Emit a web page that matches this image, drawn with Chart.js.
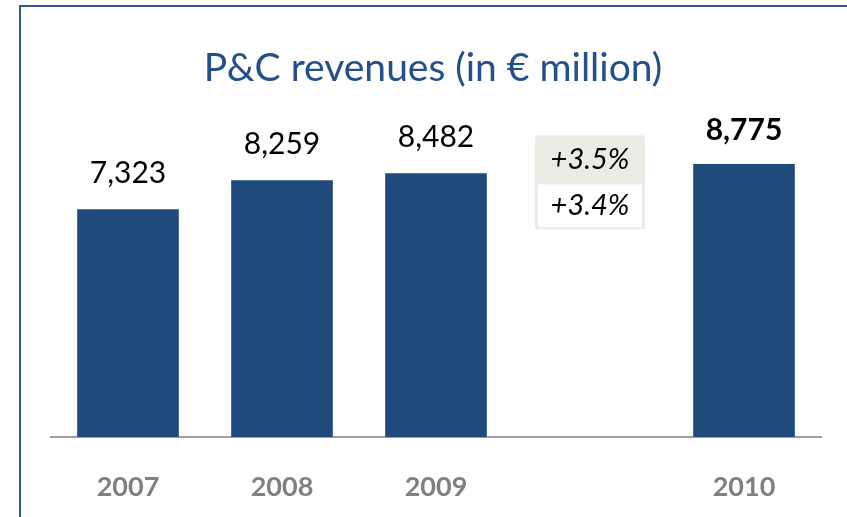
<!DOCTYPE html>
<html>
<head>
<meta charset="utf-8">
<script src="https://cdn.jsdelivr.net/npm/chart.js@4"></script>
<style>
  html, body { margin: 0; padding: 0; background: #ffffff; }
  #wrap { position: relative; width: 847px; height: 517px; }
</style>
</head>
<body>
<div id="wrap"><canvas id="pcChart" width="847" height="517"></canvas></div>
<script>
// P&C revenues, € million
const years = ['2007', '2008', '2009', '', '2010'];
const revenues = [7323, 8259, 8482, null, 8775];
const growthLabels = ['+3.5%', '+3.4%'];
const chartTitle = 'P&C revenues (in € million)';

const FONT = 'Lato, Calibri, "Open Sans", sans-serif';

// frame + title drawn behind the chart
const framePlugin = {
    id: 'frame',
    beforeDraw(chart) {
        const ctx = chart.ctx;
        ctx.save();
        ctx.strokeStyle = '#2B5A92';
        ctx.lineWidth = 2;
        ctx.beginPath();
        ctx.moveTo(20, 518);
        ctx.lineTo(20, 6);
        ctx.lineTo(848, 6);
        ctx.stroke();

        ctx.fillStyle = '#23508A';
        ctx.font = '39px ' + FONT;
        ctx.textAlign = 'center';
        ctx.textBaseline = 'alphabetic';
        ctx.fillText(chartTitle, 433, 81);
        ctx.restore();
    }
};

// value labels above bars + growth box
const labelPlugin = {
    id: 'valueLabels',
    afterDatasetsDraw(chart) {
        const ctx = chart.ctx;
        const meta = chart.getDatasetMeta(0);
        ctx.save();
        ctx.fillStyle = '#000000';
        ctx.textAlign = 'center';
        ctx.textBaseline = 'alphabetic';
        meta.data.forEach((bar, i) => {
            const v = revenues[i];
            if (v == null) return;
            const last = i === revenues.length - 1;
            ctx.font = (last ? 'bold ' : '') + '30px ' + FONT;
            ctx.fillText(v.toLocaleString('en-US'), bar.x, bar.y - (last ? 24 : 26));
        });

        // growth box sits in the empty category slot
        const xs = chart.scales.x;
        const ys = chart.scales.y;
        const cx = xs.getPixelForValue(3);
        const left = cx - 55, w = 110;
        const top = ys.getPixelForValue(9700);
        const mid = top + 48, bottom = top + 94;

        ctx.fillStyle = '#EBEAE5';
        ctx.beginPath();
        ctx.roundRect(left, top, w, bottom - top, 3);
        ctx.fill();
        ctx.fillStyle = '#ffffff';
        ctx.fillRect(left + 3, mid + 1, w - 6, bottom - mid - 3);

        ctx.fillStyle = '#000000';
        ctx.font = 'italic 29px ' + FONT;
        ctx.textBaseline = 'middle';
        ctx.fillText(growthLabels[0], cx, top + 24);
        ctx.fillText(growthLabels[1], cx, mid + 22);
        ctx.restore();
    }
};

new Chart(document.getElementById('pcChart'), {
    type: 'bar',
    data: {
        labels: years,
        datasets: [{
            data: revenues,
            backgroundColor: '#214A7C',
            barPercentage: 0.66,
            categoryPercentage: 1.0
        }]
    },
    options: {
        responsive: false,
        animation: false,
        layout: { padding: { left: 51, right: 26, top: 126, bottom: 0 } },
        scales: {
            x: {
                grid: { display: false, drawTicks: false },
                border: { display: true, color: '#A0A0A0', width: 2 },
                ticks: {
                    color: '#808080',
                    padding: 34,
                    font: { family: FONT, size: 27, weight: 'bold' }
                },
                afterFit(scale) { scale.height = 80; }
            },
            y: {
                display: false,
                min: 0,
                max: 10000
            }
        },
        plugins: {
            legend: { display: false },
            tooltip: { enabled: false }
        }
    },
    plugins: [framePlugin, labelPlugin]
});
</script>
</body>
</html>
